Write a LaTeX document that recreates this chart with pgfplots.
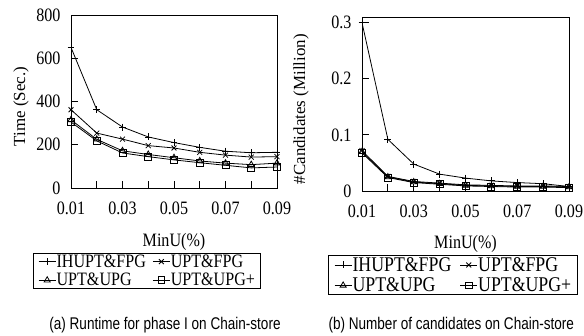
\documentclass[border=0pt]{standalone}
\usepackage{fontspec}
\usepackage{pgfplots}
\pgfplotsset{compat=1.18}
\newfontfamily\chartfont{Liberation Serif}[FakeStretch=0.85]
\newfontfamily\ylabfont{Liberation Serif}
\newfontfamily\capfont{Liberation Sans}[FakeStretch=0.8]

\pgfplotsset{
 mystyle/.style={
  scale only axis,
  xmin=0.01, xmax=0.09,
  scaled x ticks=false, scaled y ticks=false,
  xtick={0.01,0.03,0.05,0.07,0.09},
  xticklabels={0.01,0.03,0.05,0.07,0.09},
  minor xtick={0.02,0.04,0.06,0.08},
  tick align=inside,
  xtick pos=bottom, ytick pos=left,
  major tick length=7bp, minor tick length=7bp,
  every tick/.style={black, line width=0.8pt},
  minor tick style={black, line width=0.8pt},
  axis line style={line width=0.9pt},
  tick label style={font=\chartfont\fontsize{19}{20}\selectfont},
  xticklabel style={yshift=-10bp},
  yticklabel style={xshift=-7bp},
  /pgf/number format/assume math mode=true,
  label style={font=\chartfont\fontsize{19}{20}\selectfont},
  ylabel style={font=\ylabfont\fontsize{17}{18}\selectfont},
  legend columns=2,
  legend cell align=left,
  legend style={draw=black, line width=0.8pt, anchor=north west,
    font=\chartfont\fontsize{19}{19}\selectfont,
    /tikz/every even column/.append style={column sep=6bp},
    row sep=3.5bp,
    inner xsep=5bp, inner ysep=1bp,
    nodes={inner sep=0.5bp}},
  every axis plot/.append style={line width=0.8pt, black, mark size=3.5pt,
    mark options={solid, fill=white, line width=0.8pt}},
 }
}

\begin{document}
\begin{tikzpicture}
\path[use as bounding box] (0,0) rectangle (584bp,336bp);

\begin{axis}[mystyle,
  at={(71bp,148bp)}, anchor=south west,
  width=206bp, height=173bp,
  ymin=0, ymax=800,
  ytick={0,200,400,600,800},
  yticklabels={0,200,400,600,800},
  xlabel={MinU(\%)},
  xlabel style={at={(axis description cs:0.5,0)}, anchor=center, yshift=-54bp},
  ylabel={Time (Sec.)},
  ylabel style={at={(axis description cs:-0.243,0.47)}, anchor=center},
  legend style={at={(axis description cs:-0.185,-0.374)}},
]
\addplot[mark=+] coordinates {(0.01,650)(0.02,362)(0.03,282)(0.04,236)(0.05,210)(0.06,188)(0.07,170)(0.08,163)(0.09,165)};
\addplot[mark=x] coordinates {(0.01,362)(0.02,254)(0.03,226)(0.04,196)(0.05,185)(0.06,165)(0.07,152)(0.08,143)(0.09,145)};
\addplot[mark=triangle] coordinates {(0.01,315)(0.02,225)(0.03,172)(0.04,155)(0.05,140)(0.06,125)(0.07,115)(0.08,108)(0.09,115)};
\addplot[mark=square] coordinates {(0.01,305)(0.02,218)(0.03,162)(0.04,145)(0.05,130)(0.06,117)(0.07,105)(0.08,93)(0.09,97)};
\legend{IHUPT\&FPG, UPT\&FPG, UPT\&UPG, UPT\&UPG+}
\end{axis}

\begin{axis}[mystyle,
  at={(362bp,145bp)}, anchor=south west,
  width=207bp, height=174bp,
  ymin=0, ymax=0.31,
  ytick={0,0.1,0.2,0.3},
  yticklabels={0,0.1,0.2,0.3},
  xlabel={MinU(\%)},
  xlabel style={at={(axis description cs:0.5,0)}, anchor=center, yshift=-53bp},
  ylabel={\#Candidates (Million)},
  ylabel style={at={(axis description cs:-0.295,0.47)}, anchor=center},
  legend style={at={(axis description cs:-0.165,-0.37)},
    font=\chartfont\fontsize{21}{20}\selectfont,
    /tikz/every even column/.append style={column sep=8bp},
    row sep=4bp,
    inner xsep=6bp, inner ysep=1bp},
]
\addplot[mark=+] coordinates {(0.01,0.30)(0.02,0.092)(0.03,0.048)(0.04,0.030)(0.05,0.023)(0.06,0.018)(0.07,0.015)(0.08,0.013)(0.09,0.008)};
\addplot[mark=x] coordinates {(0.01,0.072)(0.02,0.026)(0.03,0.017)(0.04,0.014)(0.05,0.011)(0.06,0.010)(0.07,0.009)(0.08,0.009)(0.09,0.008)};
\addplot[mark=triangle] coordinates {(0.01,0.070)(0.02,0.025)(0.03,0.016)(0.04,0.013)(0.05,0.010)(0.06,0.009)(0.07,0.008)(0.08,0.008)(0.09,0.007)};
\addplot[mark=square] coordinates {(0.01,0.068)(0.02,0.024)(0.03,0.015)(0.04,0.012)(0.05,0.009)(0.06,0.008)(0.07,0.007)(0.08,0.007)(0.09,0.006)};
\legend{IHUPT\&FPG, UPT\&FPG, UPT\&UPG, UPT\&UPG+}
\end{axis}

\node[font=\capfont\fontsize{17}{18}\selectfont] at (165bp,11bp) {(a) Runtime for phase I on Chain-store};
\node[font=\capfont\fontsize{17}{18}\selectfont, anchor=west] at (325bp,11bp) {(b) Number of candidates on Chain-store};
\end{tikzpicture}
\end{document}
